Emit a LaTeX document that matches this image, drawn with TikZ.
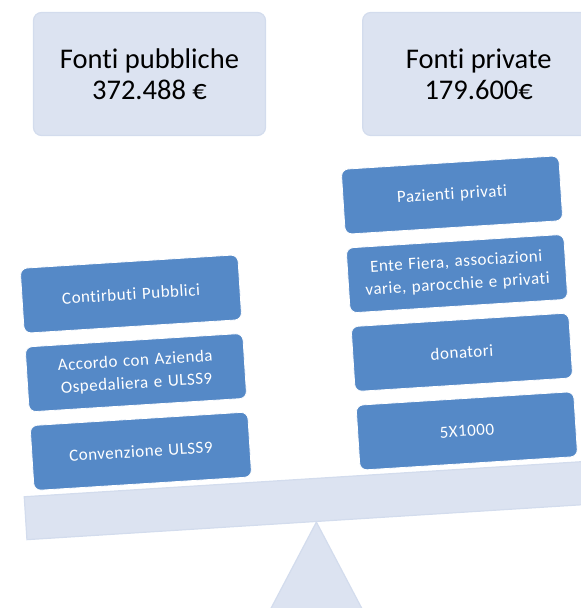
\documentclass[tikz,border=0pt]{standalone}
\usepackage{fontspec}
\setmainfont{Carlito}[Ligatures=NoCommon]
\newfontfamily\boxfont[LetterSpace=3,Ligatures=NoCommon]{Carlito}
\usetikzlibrary{positioning}
\definecolor{palebox}{RGB}{220,227,241}
\definecolor{paleedge}{RGB}{211,220,237}
\definecolor{stackblue}{RGB}{85,137,199}

\begin{document}
\begin{tikzpicture}[x=1pt,y=-1pt,
total/.style={draw=paleedge,fill=palebox,rounded corners=8pt,line width=1.2pt,minimum width=232pt,minimum height=123pt,align=center,font=\fontsize{28.5}{31}\selectfont},
item/.style={draw=white,fill=stackblue,rounded corners=7pt,line width=0.8pt,minimum width=218pt,minimum height=65pt,text width=210pt,align=center,text=white,font=\boxfont\fontsize{17}{22.5}\selectfont},
plank/.style={draw=paleedge,fill=palebox,line width=1.2pt}]
\useasboundingbox (0,0) rectangle (581,608);
\clip (0,0) rectangle (581,608);
% totals on top
\node (pub) [total] at (149.5,74) {Fonti pubbliche\\372.488 €};
\node (priv) [total,right=96pt of pub] {Fonti private\\179.600€};
% the two stacks
\begin{scope}[shift={(131,294)},rotate=3.6,transform shape]
\node (contrib) [item] at (0,0) {Contirbuti Pubblici};
\node (accordo) [item,below=13pt of contrib] {Accordo con Azienda\\Ospedaliera e ULSS9};
\node (conv) [item,below=13pt of accordo] {Convenzione ULSS9};
\end{scope}
\begin{scope}[shift={(452,195)},rotate=3.6,transform shape]
\node (pazienti) [item] at (0,0) {Pazienti privati};
\node (ente) [item,below=13pt of pazienti] {Ente Fiera, associazioni\\varie, parocchie e privati};
\node (donatori) [item,below=13pt of ente] {donatori};
\node (cinque) [item,below=13pt of donatori] {5X1000};
\end{scope}
% balance
\node (beam) [plank,rotate=3.6,minimum width=580pt,minimum height=43pt] at (315,500) {};
\path [plank] (beam.south) -- ++(-70,133) -- ++(140,0) -- cycle;
\end{tikzpicture}
\end{document}
